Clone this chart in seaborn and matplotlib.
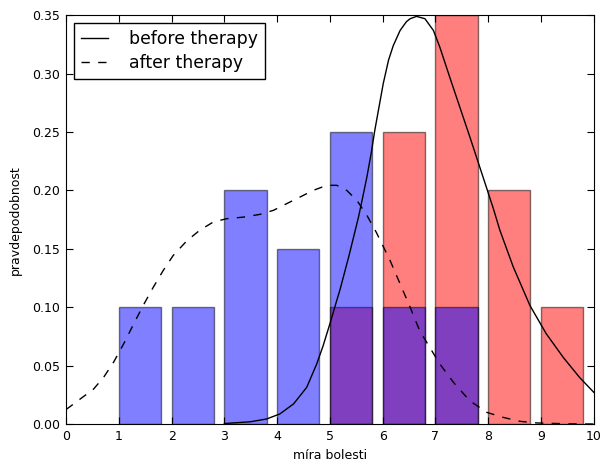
import matplotlib
matplotlib.use("Agg")
import matplotlib.pyplot as plt
import seaborn as sns

# ------------------- data
after_x = [1, 2, 3, 4, 5, 6, 7]
after_p = [0.10, 0.10, 0.20, 0.15, 0.25, 0.10, 0.10]
before_x = [5, 6, 7, 8, 9]
before_p = [0.10, 0.25, 0.35, 0.20, 0.10]

# density curves
before_cx = [3.0, 3.49, 3.80, 4.05, 4.31, 4.56, 4.75, 4.87, 5.0, 5.13, 5.19, 5.36,
             5.54, 5.62, 5.70, 5.78, 5.85, 5.93, 6.01, 6.11, 6.20, 6.33, 6.45,
             6.52, 6.64, 6.80, 6.96, 7.08, 7.27, 7.46, 7.65, 7.81, 7.97, 8.10,
             8.22, 8.47, 8.79, 9.10, 9.42, 9.73, 10.0]
before_cy = [0.0005, 0.002, 0.0044, 0.0087, 0.0173, 0.0315, 0.0516, 0.067, 0.086,
             0.106, 0.115, 0.144, 0.177, 0.194, 0.2115, 0.2315, 0.2515, 0.2715,
             0.2915, 0.3115, 0.324, 0.337, 0.3445, 0.347, 0.349, 0.347, 0.337,
             0.323, 0.297, 0.2715, 0.246, 0.224, 0.202, 0.184, 0.166, 0.135,
             0.1015, 0.0773, 0.0572, 0.040, 0.0272]
after_cx = [0.0, 0.27, 0.52, 0.71, 0.90, 1.09, 1.28, 1.46, 1.65, 1.84, 2.03, 2.29,
            2.54, 2.79, 3.04, 3.36, 3.67, 3.93, 4.18, 4.43, 4.68, 4.94, 5.13, 5.32,
            5.51, 5.70, 5.88, 6.14, 6.33, 6.52, 6.70, 6.89, 7.08, 7.34, 7.65, 7.97,
            8.28, 8.60, 8.92, 9.55, 10.0]
after_cy = [0.0125, 0.0216, 0.030, 0.040, 0.053, 0.0687, 0.0857, 0.1015, 0.117,
            0.1315, 0.1444, 0.157, 0.1662, 0.173, 0.1758, 0.1772, 0.1795, 0.183,
            0.1887, 0.1943, 0.200, 0.2044, 0.2044, 0.200, 0.1915, 0.1787, 0.164,
            0.140, 0.120, 0.100, 0.080, 0.0658, 0.0516, 0.0358, 0.020, 0.0101,
            0.0058, 0.0024, 0.001, 0.0002, 0.0001]

plt.rcParams["font.family"] = "DejaVu Sans"
plt.rcParams["xtick.direction"] = "in"
plt.rcParams["ytick.direction"] = "in"
plt.rcParams["xtick.top"] = True
plt.rcParams["ytick.right"] = True

fig, ax = plt.subplots(figsize=(6.01, 4.61), dpi=100)
fig.subplots_adjust(left=0.11, right=0.988, top=0.967, bottom=0.08)

# red first, blue on top -> purple overlap
ax.bar(before_x, before_p, width=0.8, align="edge", color="red", alpha=0.5, edgecolor="black")
ax.bar(after_x, after_p, width=0.8, align="edge", color="blue", alpha=0.5, edgecolor="black")

sns.lineplot(x=before_cx, y=before_cy, ax=ax, color="black", linewidth=1, label="before therapy")
sns.lineplot(x=after_cx, y=after_cy, ax=ax, color="black", linewidth=1,
             linestyle=(0, (6, 6)), label="after therapy")

ax.set_xlim(0, 10)
ax.set_ylim(0, 0.35)
ax.set_xticks(range(0, 11))
yt = [0, 0.05, 0.1, 0.15, 0.2, 0.25, 0.3, 0.35]
ax.set_yticks(yt)
ax.set_yticklabels([f"{v:.2f}" for v in yt])
ax.tick_params(labelsize=9, length=5, width=0.8, pad=4.5, colors="black")
ax.set_xlabel("míra bolesti", fontsize=9)
ax.set_ylabel("pravdepodobnost", fontsize=9, labelpad=7)
for s in ax.spines.values():
    s.set_color("black")

ax.legend(loc="upper left", fontsize=12.4, fancybox=False, edgecolor="black",
          framealpha=1, handlelength=1.6, handletextpad=1.2, borderpad=0.4,
          labelspacing=0.35, borderaxespad=0.45)

fig.savefig("out.png", dpi=100)
